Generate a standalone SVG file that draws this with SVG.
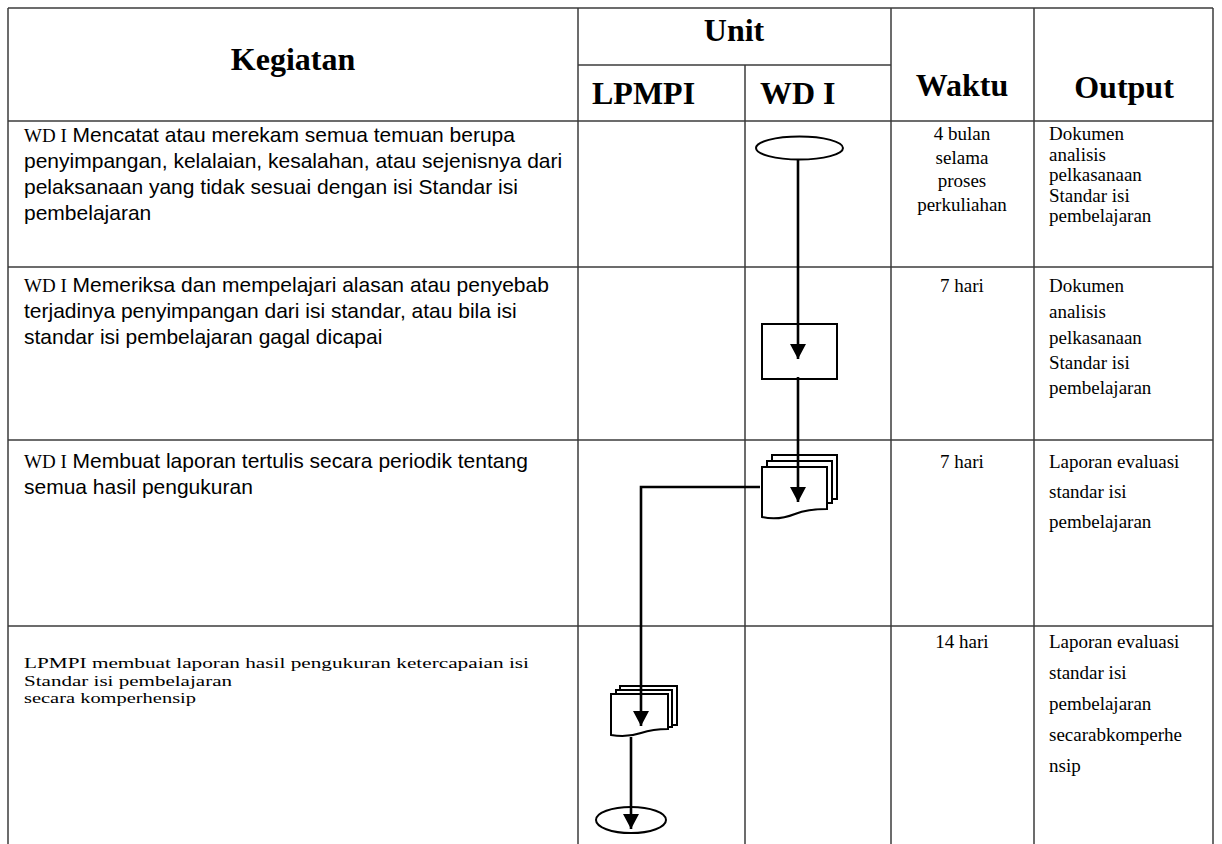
<svg xmlns="http://www.w3.org/2000/svg" width="1222" height="844" viewBox="0 0 1222 844">
<defs>
<style>
.grid{stroke:#3c3c3c;stroke-width:1.5;fill:none}
.hd{font-family:"Liberation Serif","Times New Roman",serif;font-weight:bold;font-size:32px;fill:#000}
.sans{font-family:"Liberation Sans",Arial,sans-serif;font-size:21px;fill:#000}
.ser{font-family:"Liberation Serif","Times New Roman",serif;font-size:19px;fill:#000}
.ser4{font-family:"Liberation Serif","Times New Roman",serif;font-size:15px;fill:#000}
.wd{font-family:"Liberation Serif","Times New Roman",serif;font-size:19px}
.shape{fill:#fff;stroke:#000;stroke-width:2}
.conn{fill:none;stroke:#000;stroke-width:2.6}
</style>
<marker id="arr" markerUnits="userSpaceOnUse" markerWidth="16" markerHeight="16" refX="15" refY="8" orient="auto">
<path d="M0,0 L15,8 L0,16 Z" fill="#000"/>
</marker>
</defs>
<rect width="1222" height="844" fill="#fff"/>
<g id="table">
<path class="grid" d="M8,8 H1213 M8,8 V844 M1213,8 V844 M578,8 V844 M891,8 V844 M1034,8 V844 M745,65 V844 M578,65 H891 M8,121 H1213 M8,267 H1213 M8,440 H1213 M8,626 H1213"/>
<text class="hd" x="293" y="70" text-anchor="middle">Kegiatan</text>
<text class="hd" x="734" y="41" text-anchor="middle">Unit</text>
<text class="hd" x="592" y="104">LPMPI</text>
<text class="hd" x="760" y="104">WD I</text>
<text class="hd" x="962" y="96" text-anchor="middle">Waktu</text>
<text class="hd" x="1124" y="98" text-anchor="middle">Output</text>
</g>
<g id="row1-text">
<text class="sans" x="24" y="141.5"><tspan class="wd">WD I</tspan> Mencatat atau merekam semua temuan berupa</text>
<text class="sans" x="24" y="167.5">penyimpangan, kelalaian, kesalahan, atau sejenisnya dari</text>
<text class="sans" x="24" y="193.5">pelaksanaan yang tidak sesuai dengan isi Standar isi</text>
<text class="sans" x="24" y="219.5">pembelajaran</text>
<text class="ser" x="962" y="140" text-anchor="middle">4 bulan</text>
<text class="ser" x="962" y="163.5" text-anchor="middle">selama</text>
<text class="ser" x="962" y="187" text-anchor="middle">proses</text>
<text class="ser" x="962" y="210.5" text-anchor="middle">perkuliahan</text>
<text class="ser" x="1049" y="140">Dokumen</text>
<text class="ser" x="1049" y="160.5">analisis</text>
<text class="ser" x="1049" y="181">pelkasanaan</text>
<text class="ser" x="1049" y="201.5">Standar isi</text>
<text class="ser" x="1049" y="222">pembelajaran</text>
</g>
<g id="row2-text">
<text class="sans" x="24" y="292"><tspan class="wd">WD I</tspan> Memeriksa dan mempelajari alasan atau penyebab</text>
<text class="sans" x="24" y="318">terjadinya penyimpangan dari isi standar, atau bila isi</text>
<text class="sans" x="24" y="344">standar isi pembelajaran gagal dicapai</text>
<text class="ser" x="962" y="292" text-anchor="middle">7 hari</text>
<text class="ser" x="1049" y="292">Dokumen</text>
<text class="ser" x="1049" y="318">analisis</text>
<text class="ser" x="1049" y="344">pelkasanaan</text>
<text class="ser" x="1049" y="369">Standar isi</text>
<text class="ser" x="1049" y="394">pembelajaran</text>
</g>
<g id="row3-text">
<text class="sans" x="24" y="468"><tspan class="wd">WD I</tspan> Membuat laporan tertulis secara periodik tentang</text>
<text class="sans" x="24" y="494">semua hasil pengukuran</text>
<text class="ser" x="962" y="468" text-anchor="middle">7 hari</text>
<text class="ser" x="1049" y="468">Laporan evaluasi</text>
<text class="ser" x="1049" y="498">standar isi</text>
<text class="ser" x="1049" y="528">pembelajaran</text>
</g>
<g id="row4-text">
<text class="ser4" x="24" y="668" textLength="505" lengthAdjust="spacingAndGlyphs">LPMPI membuat laporan hasil pengukuran ketercapaian isi</text>
<text class="ser4" x="24" y="685.5" textLength="208" lengthAdjust="spacingAndGlyphs">Standar isi pembelajaran</text>
<text class="ser4" x="24" y="703" textLength="172" lengthAdjust="spacingAndGlyphs">secara komperhensip</text>
<text class="ser" x="962" y="648" text-anchor="middle">14 hari</text>
<text class="ser" x="1049" y="648">Laporan evaluasi</text>
<text class="ser" x="1049" y="679">standar isi</text>
<text class="ser" x="1049" y="710">pembelajaran</text>
<text class="ser" x="1049" y="741">secarabkomperhe</text>
<text class="ser" x="1049" y="772">nsip</text>
</g>
<g id="node-start">
<ellipse class="shape" cx="799.5" cy="148" rx="43.5" ry="11.5"/>
</g>
<g id="node-process">
<rect class="shape" x="762" y="324" width="75" height="55"/>
</g>
<g id="node-doc-wd">
<rect class="shape" x="772" y="455" width="65" height="44"/>
<rect class="shape" x="767" y="461" width="65" height="42"/>
<path class="shape" d="M762,467 H827 V509 C815,509 805,510 795,514 C785,518 775,520 762,517 Z"/>
</g>
<g id="node-doc-lpmpi">
<rect class="shape" x="620" y="686" width="57" height="39"/>
<rect class="shape" x="616" y="690" width="56" height="37"/>
<path class="shape" d="M611,694 H668 V729 C658,729 650,730 641,733 C632,736 622,737 611,735 Z"/>
</g>
<g id="node-end">
<ellipse class="shape" cx="631" cy="820" rx="35" ry="13"/>
</g>
<g id="connectors">
<path class="conn" d="M798,160 V359" marker-end="url(#arr)"/>
<path class="conn" d="M798,377 V502" marker-end="url(#arr)"/>
<path class="conn" d="M760,487 H641 V726" marker-end="url(#arr)"/>
<path class="conn" d="M631,737 V829" marker-end="url(#arr)"/>
</g>
</svg>
